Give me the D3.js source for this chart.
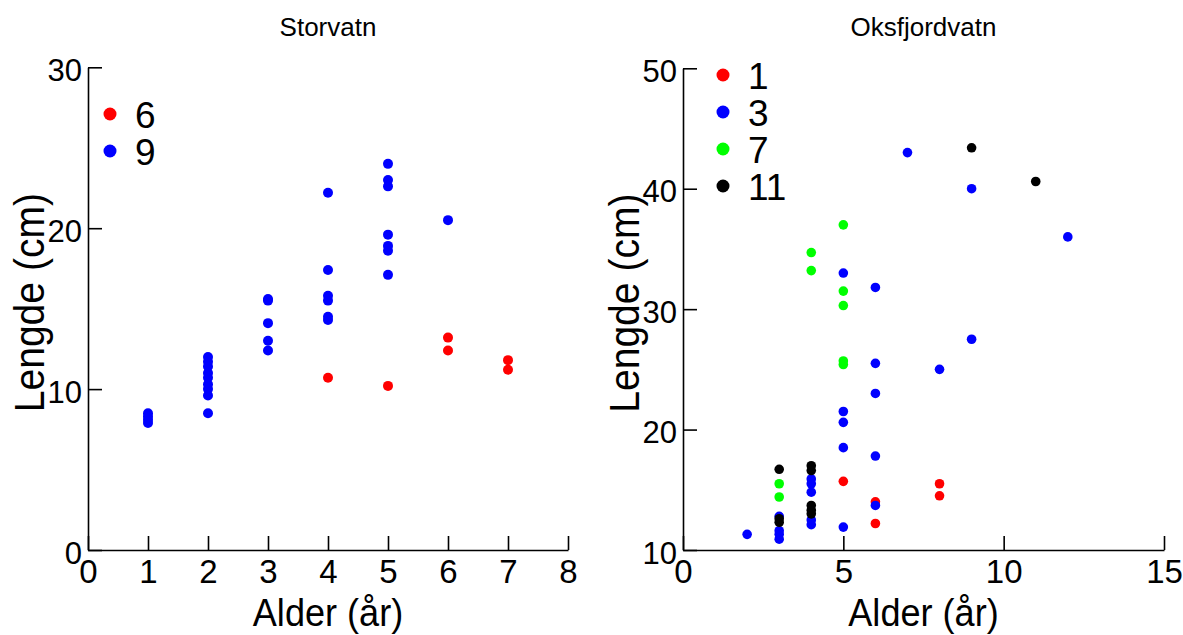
<!DOCTYPE html>
<html>
<head>
<meta charset="utf-8">
<script src="https://cdn.jsdelivr.net/npm/d3@7"></script>
<style>
  body { margin: 0; background: #fff; }
  svg text { font-family: "Liberation Sans", Arial, sans-serif; fill: #000; }
  .axis path, .axis line { stroke: #000; stroke-width: 1.6; }
</style>
</head>
<body>
<div id="container"></div>
<script>
/* CONSTANTS AND GLOBALS */
const width = 1183;
const height = 635;

/* DATA: [alder, lengde] per group */
// Storvatn
const storvatnGroups = ["6", "9"];
const storvatn6 = [[4, 10.7], [5, 10.2], [6, 13.2], [6, 12.4], [7, 11.8], [7, 11.2]];
const storvatn9 = [
  [1, 8.5], [1, 8.3], [1, 8.1], [1, 7.9],
  [2, 12.0], [2, 11.7], [2, 11.4], [2, 11.0], [2, 10.7], [2, 10.3], [2, 10.0], [2, 9.6], [2, 8.5],
  [3, 15.6], [3, 15.5], [3, 14.1], [3, 13.0], [3, 12.4],
  [4, 22.2], [4, 17.4], [4, 15.8], [4, 15.5], [4, 14.5], [4, 14.3],
  [5, 24.0], [5, 23.0], [5, 22.6], [5, 19.6], [5, 18.9], [5, 18.6], [5, 17.1],
  [6, 20.5]
];
const storvatnXTicks = [0, 1, 2, 3, 4, 5, 6, 7, 8];
const storvatnYTicks = [0, 10, 20, 30];

// Oksfjordvatn
const oksGroups = ["1", "3", "7", "11"];
const oks1 = [[5, 15.7], [6, 14.0], [6, 12.2], [8, 15.5], [8, 14.5]];
const oks3 = [
  [2, 11.3],
  [3, 12.8], [3, 11.6], [3, 11.3], [3, 10.9],
  [4, 15.9], [4, 15.5], [4, 14.8], [4, 12.5], [4, 12.1],
  [5, 33.0], [5, 21.5], [5, 20.6], [5, 18.5], [5, 11.9],
  [6, 31.8], [6, 25.5], [6, 23.0], [6, 17.8], [6, 13.7],
  [7, 43.0], [8, 25.0], [9, 40.0], [9, 27.5], [12, 36.0]
];
const oks7 = [[3, 15.5], [3, 14.4], [4, 34.7], [4, 33.2], [5, 37.0], [5, 31.5], [5, 30.3], [5, 25.7], [5, 25.4]];
const oks11 = [[3, 16.7], [3, 12.6], [3, 12.3], [4, 17.0], [4, 16.6], [4, 13.7], [4, 13.3], [4, 13.0], [9, 43.4], [11, 40.6]];
const oksXTicks = [0, 5, 10, 15];
const oksYTicks = [10, 20, 30, 40, 50];

const groupColors = ["#ff0000", "#0000ff", "#00ff00", "#000000"];

const svg = d3.select("#container")
  .append("svg")
  .attr("width", width)
  .attr("height", height);

// draws one panel
function drawPanel(opt) {
  const xScale = d3.scaleLinear().domain(opt.xDomain).range([opt.left, opt.right]);
  const yScale = d3.scaleLinear().domain(opt.yDomain).range([opt.bottom, opt.top]);

  const colorScale = d3.scaleOrdinal()
    .domain(opt.groups)
    .range(opt.colors);

  // title
  svg.append("text")
    .attr("x", (opt.left + opt.right) / 2)
    .attr("y", 36)
    .attr("text-anchor", "middle")
    .style("font-size", "26px")
    .text(opt.title);

  // axes
  const xAxis = d3.axisBottom(xScale)
    .tickValues(opt.xTicks)
    .tickSizeInner(-14)
    .tickSizeOuter(0)
    .tickPadding(10);
  svg.append("g")
    .attr("class", "axis")
    .attr("transform", `translate(0,${opt.bottom})`)
    .call(xAxis)
    .call(g => g.selectAll("text").style("font-size", "33px").attr("fill", "#000"));

  const yAxis = d3.axisLeft(yScale)
    .tickValues(opt.yTicks)
    .tickSizeInner(-14)
    .tickSizeOuter(0)
    .tickPadding(6);
  svg.append("g")
    .attr("class", "axis")
    .attr("transform", `translate(${opt.left},0)`)
    .call(yAxis)
    .call(g => g.selectAll("text").style("font-size", "31px").attr("dy", "0.42em").attr("fill", "#000"));

  // axis labels
  svg.append("text")
    .attr("transform", `translate(${(opt.left + opt.right) / 2},626) scale(0.95,1)`)
    .attr("text-anchor", "middle")
    .style("font-size", "38px")
    .text("Alder (år)");

  svg.append("text")
    .attr("transform", `translate(${opt.left - 44},${(opt.top + opt.bottom) / 2 - 6}) rotate(-90) scale(0.93,1)`)
    .attr("text-anchor", "middle")
    .style("font-size", "42px")
    .text("Lengde (cm)");

  // dots
  opt.series.forEach((s, i) => {
    svg.append("g")
      .selectAll("circle")
      .data(s)
      .join("circle")
      .attr("cx", d => xScale(d[0]))
      .attr("cy", d => yScale(d[1]))
      .attr("r", opt.r)
      .attr("fill", colorScale(opt.groups[i]));
  });

  // legend
  const legend = svg.append("g")
    .selectAll("g")
    .data(opt.groups)
    .join("g")
    .attr("transform", (d, i) => `translate(${opt.legendX},${opt.legendY + i * 37})`);

  legend.append("circle")
    .attr("r", 6.5)
    .attr("fill", d => colorScale(d));

  legend.append("text")
    .attr("x", 25)
    .attr("y", 14)
    .style("font-size", "37px")
    .text(d => d);
}

drawPanel({
  title: "Storvatn",
  left: 88, right: 568, top: 67.3, bottom: 550,
  xDomain: [0, 8], yDomain: [0, 30],
  xTicks: storvatnXTicks, yTicks: storvatnYTicks,
  groups: storvatnGroups, colors: groupColors.slice(0, 2),
  series: [storvatn6, storvatn9],
  r: 5,
  legendX: 110, legendY: 114
});

drawPanel({
  title: "Oksfjordvatn",
  left: 683, right: 1164, top: 68.3, bottom: 550,
  xDomain: [0, 15], yDomain: [10, 50],
  xTicks: oksXTicks, yTicks: oksYTicks,
  groups: oksGroups, colors: groupColors,
  series: [oks1, oks3, oks7, oks11],
  r: 4.8,
  legendX: 723, legendY: 75
});
</script>
</body>
</html>
